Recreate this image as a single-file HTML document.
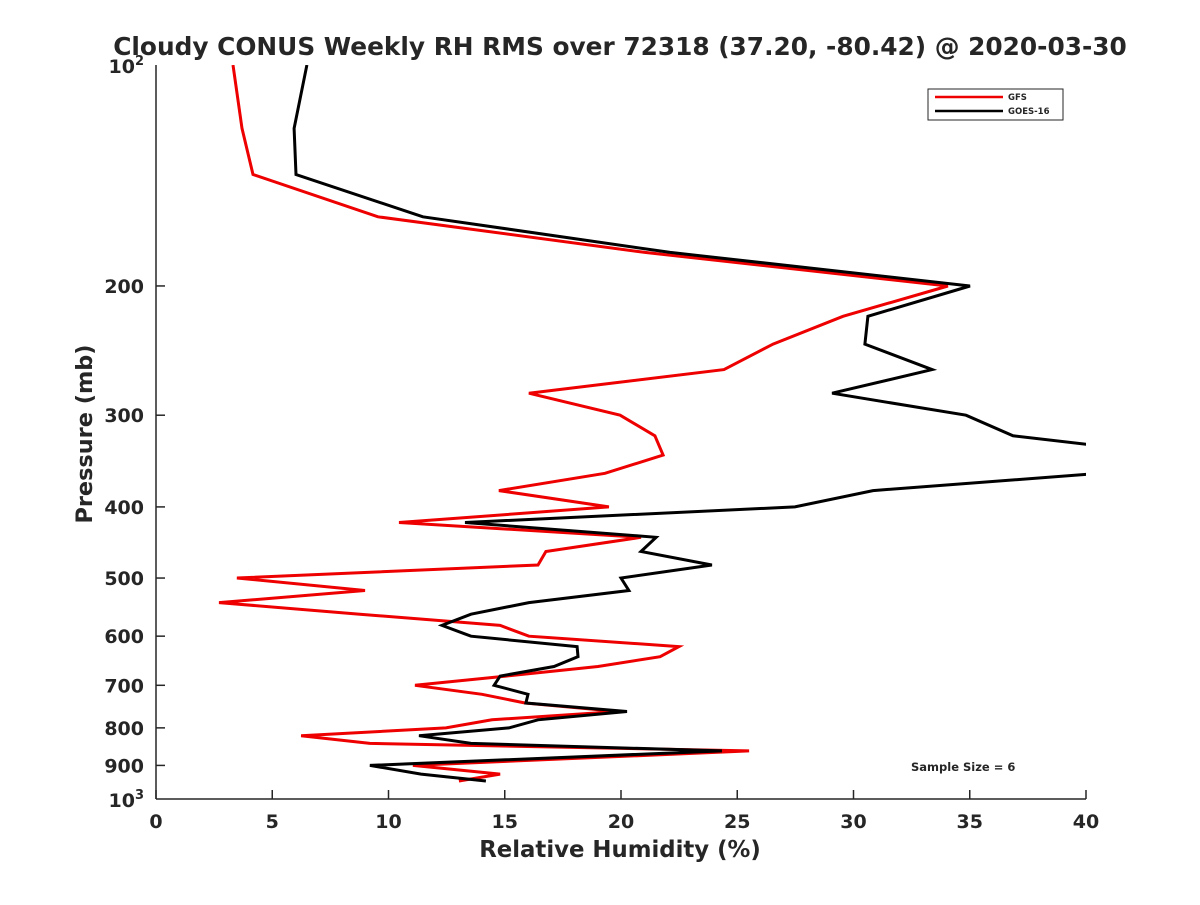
<!DOCTYPE html>
<html><head><meta charset="utf-8"><style>
body{margin:0;background:#fff;}
svg text{font-family:"DejaVu Sans","Liberation Sans",sans-serif;font-weight:bold;fill:#262626;}
</style></head><body>
<svg id="chart" width="1200" height="900">
<defs><clipPath id="clip"><rect x="156" y="65" width="930" height="734"/></clipPath></defs>
<text x="620" y="55" font-size="24.8" text-anchor="middle" fill="#000">Cloudy CONUS Weekly RH RMS over 72318 (37.20, -80.42) @ 2020-03-30</text>
<g id="axes"></g>
<g id="series" clip-path="url(#clip)"></g>
<g>
<rect x="928" y="89" width="135" height="31" fill="#fff" stroke="#262626" stroke-width="1"/>
<line x1="935" y1="97" x2="1003" y2="97" stroke="#e00" stroke-width="2.5"/>
<text x="1008" y="100" font-size="8.5">GFS</text>
<line x1="935" y1="111" x2="1003" y2="111" stroke="#000" stroke-width="2.5"/>
<text x="1008" y="114" font-size="8.5">GOES-16</text>
</g>
<text x="911" y="771" font-size="11.5" fill="#000">Sample Size = 6</text>
<text x="620" y="857" font-size="22.8" text-anchor="middle">Relative Humidity (%)</text>
<text transform="translate(92,434) rotate(-90)" font-size="22.4" text-anchor="middle">Pressure (mb)</text>
</svg>
<script>
const pressure=[100,122,141,161,180,200,220,240,260,280,300,320,340,360,380,400,420,440,460,480,500,520,540,560,580,600,620,640,660,680,700,720,740,760,780,800,820,840,860,900,925,945];
const gfs=[3.31,3.70,4.17,9.55,21.03,34.06,29.55,26.54,24.43,16.04,19.96,21.46,21.81,19.31,14.75,19.48,10.45,20.86,16.77,16.43,3.48,8.99,2.71,8.77,14.80,16.04,22.49,21.68,19.01,15.05,11.14,14.02,15.87,19.87,14.45,12.47,6.24,9.20,25.51,11.05,14.80,13.03];
const goes=[6.49,5.94,6.02,11.48,22.11,35.01,30.62,30.49,33.38,29.08,34.84,36.86,44,40.6,30.84,27.48,13.29,21.51,20.86,23.91,20.0,20.34,16.04,13.55,12.30,13.55,18.11,18.15,17.12,14.80,14.54,16.0,15.91,20.26,16.43,15.18,11.31,13.55,24.34,9.20,11.4,14.19];
const xTicks=[0,5,10,15,20,25,30,35,40];
const yTicks=[200,300,400,500,600,700,800,900];
const L=156,R=1086,T=65,B=799;
const X=v=>L+(v/40)*(R-L);
const Y=p=>T+(Math.log10(p)-2)*(B-T);
const NS='http://www.w3.org/2000/svg';
function mk(tag,attrs,parent){const e=document.createElementNS(NS,tag);for(const k in attrs)e.setAttribute(k,attrs[k]);parent.appendChild(e);return e;}
const ax=document.getElementById('axes');
let e=mk('line',{x1:L,y1:T,x2:L,y2:B,stroke:'#262626','stroke-width':1.5},ax);


e=mk('line',{x1:L,y1:B,x2:R,y2:B,stroke:'#262626','stroke-width':1.5},ax);


xTicks.forEach(v=>{
 const t=mk('line',{x1:X(v),y1:B,x2:X(v),y2:B-9,stroke:'#262626','stroke-width':1.5},ax);
 
 
 const l=mk('text',{x:X(v),y:B+29,'font-size':19,'text-anchor':'middle'},ax);l.textContent=v;
 
 
});
yTicks.forEach(p=>{
 const t=mk('line',{x1:L,y1:Y(p),x2:L+9,y2:Y(p),stroke:'#262626','stroke-width':1.5},ax);
 
 
 const l=mk('text',{x:L-12,y:Y(p)+7,'font-size':19,'text-anchor':'end'},ax);l.textContent=p;
 
 
});
[[100,'2'],[1000,'3']].forEach(([p,ex])=>{
 const l=mk('text',{x:L-12,y:Y(p)+8,'font-size':19,'text-anchor':'end'},ax);
 l.innerHTML='10<tspan dy="-8" font-size="13">'+ex+'</tspan>';
 
 
});
const sg=document.getElementById('series');
function line(vals,color,name){
 const pts=vals.map((v,i)=>X(v).toFixed(1)+','+Y(pressure[i]).toFixed(1)).join(' ');
 const p=mk('polyline',{points:pts,fill:'none',stroke:color,'stroke-width':3,'stroke-linejoin':'miter'},sg);
 
 
}
line(gfs,'#e00','gfs-line');
line(goes,'#000','goes16-line');
</script>
</body></html>
